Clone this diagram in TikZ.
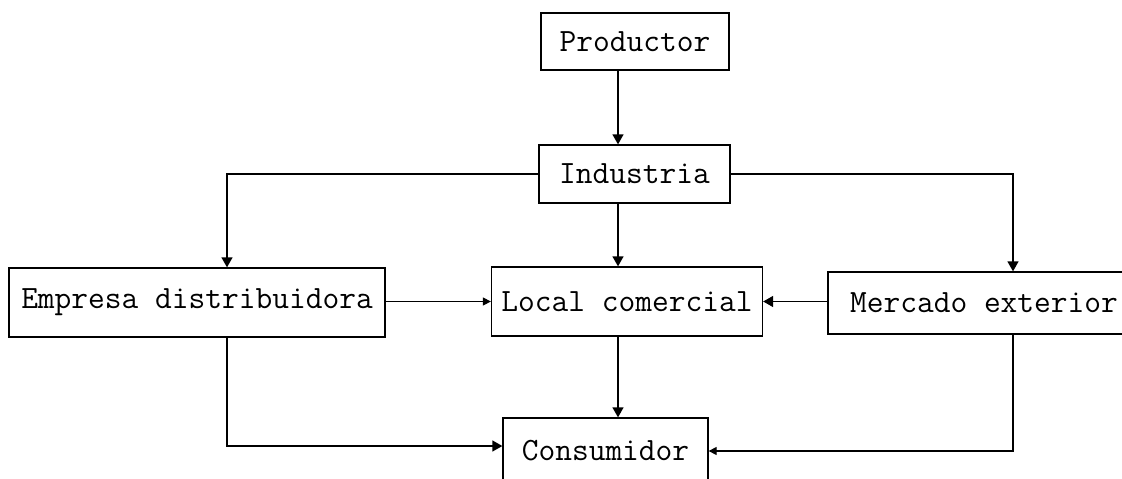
\documentclass[tikz,border=0pt]{standalone}
\usepackage{fontspec}
\usetikzlibrary{arrows.meta}
\tikzset{
  box/.style={draw, line width=1.3pt, inner sep=0pt, font=\ttfamily\fontsize{32.5}{35}\selectfont},
  conn/.style={line width=1.3pt},
  arr/.style={conn, -{Triangle[length=10pt,width=11pt]}},
  thinarr/.style={conn, -{Triangle[length=8pt,width=8pt]}}
}
\begin{document}
\begin{tikzpicture}[x=1pt,y=-1pt]
\useasboundingbox (0,0) rectangle (1122,479);
\fill[white] (0,0) rectangle (1122,479);
\clip (0,0) rectangle (1122,479);
\node[box, minimum width=188pt, minimum height=57pt] (prod) at (635,41.5) {Productor};
\node[box, minimum width=191pt, minimum height=58pt] (ind) at (634.5,174) {Industria};
\node[box, minimum width=376pt, minimum height=69pt] (emp) at (197,302.5) {Empresa distribuidora\hspace{14pt}};
\node[box, minimum width=271pt, minimum height=69pt] (loc) at (627,301.5) {Local comercial};
\node[box, minimum width=312pt, minimum height=62pt] (merc) at (984,303) {Mercado exterior};
\node[box, minimum width=205pt, minimum height=66pt] (cons) at (605.5,451) {Consumidor};
\coordinate (colx) at (618,0);
\coordinate (empx) at (227,0);
\coordinate (mercx) at (1013,0);
\coordinate (consy) at (0,446);
\draw[arr] (prod.south -| colx) -- (ind.north -| colx);
\draw[arr] (ind.south -| colx) -- (loc.north -| colx);
\draw[arr] (loc.south -| colx) -- (cons.north -| colx);
\draw[arr] (ind.west) -| (empx |- emp.north);
\draw[arr] (ind.east) -| (mercx |- merc.north);
\draw[thinarr] (emp.east |- loc.west) -- (loc.west);
\draw[arr] (merc.west |- loc.east) -- (loc.east);
\draw[arr] (empx |- emp.south) |- (cons.west |- consy);
\draw[thinarr] (mercx |- merc.south) |- (cons.east);
\end{tikzpicture}
\end{document}
